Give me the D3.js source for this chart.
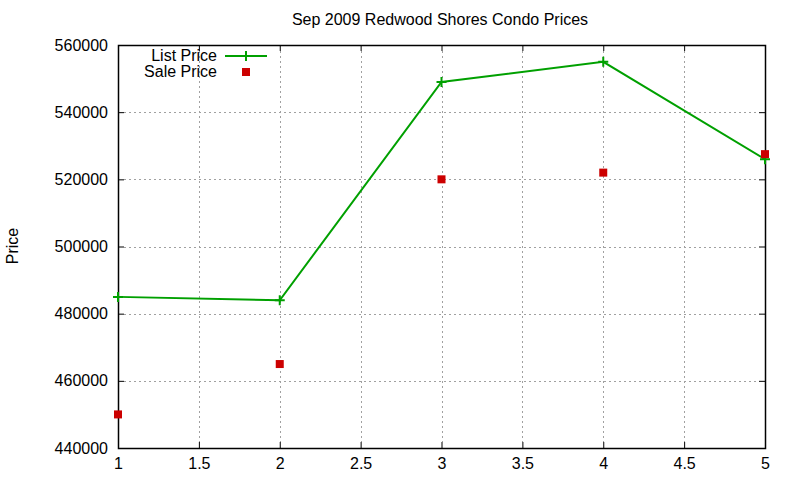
<!DOCTYPE html>
<html>
<head>
<meta charset="utf-8">
<script src="https://cdn.jsdelivr.net/npm/d3@7"></script>
<style>
  body { margin: 0; background: #fff; }
  text { font-family: "Liberation Sans", Arial, sans-serif; }
</style>
</head>
<body>
<div id="chart"></div>
<script>
const width = 800;
const height = 480;

// Data
const xs = [1, 2, 3, 4, 5];
const listPrice = [485000, 484000, 549000, 555000, 526000];
const salePrice = [450000, 465000, 520000, 522000, 527500];
const xTicks = [1, 1.5, 2, 2.5, 3, 3.5, 4, 4.5, 5];
const yTicks = [440000, 460000, 480000, 500000, 520000, 540000, 560000];

const margin = { top: 45, right: 35, bottom: 32, left: 118 };

const svg = d3.select("#chart")
  .append("svg")
  .attr("width", width)
  .attr("height", height);

const x = d3.scaleLinear().domain([1, 5]).range([margin.left, width - margin.right]);
const y = d3.scaleLinear().domain([440000, 560000]).range([height - margin.bottom, margin.top]);

const x0 = x.range()[0], x1 = x.range()[1];
const y0 = y.range()[0], y1 = y.range()[1];
const tick = 6;

// grid
const grid = svg.append("g")
  .attr("stroke", "#a0a0a0")
  .attr("stroke-width", 1)
  .attr("stroke-dasharray", "2,3");

grid.selectAll("line.gx")
  .data(xTicks.slice(1, -1))
  .join("line")
  .attr("x1", d => Math.round(x(d)) + 0.5)
  .attr("x2", d => Math.round(x(d)) + 0.5)
  .attr("y1", y1 + tick)
  .attr("y2", y0 - tick);

grid.selectAll("line.gy")
  .data(yTicks.slice(1, -1))
  .join("line")
  .attr("y1", d => Math.round(y(d)) + 0.5)
  .attr("y2", d => Math.round(y(d)) + 0.5)
  .attr("x1", x0 + tick)
  .attr("x2", x1 - tick);

// axes: ticks inward, mirrored
const axisBottom = d3.axisBottom(x).tickValues(xTicks).tickSizeInner(-tick).tickSizeOuter(0).tickPadding(10).tickFormat(d3.format("~g"));
const axisTop = d3.axisTop(x).tickValues(xTicks).tickSizeInner(-tick).tickSizeOuter(0).tickFormat("");
const axisLeft = d3.axisLeft(y).tickValues(yTicks).tickSizeInner(-tick).tickSizeOuter(0).tickPadding(10).tickFormat(d3.format("d"));
const axisRight = d3.axisRight(y).tickValues(yTicks).tickSizeInner(-tick).tickSizeOuter(0).tickFormat("");

function styleAxis(g) {
  g.select(".domain").remove();
  g.selectAll(".tick line").attr("stroke", "#000");
  g.selectAll(".tick text").attr("fill", "#000").style("font-size", "16px")
    .style("font-family", "'Liberation Sans', Arial, sans-serif");
}

svg.append("g").attr("transform", `translate(0,${y0})`).call(axisBottom).call(styleAxis);
svg.append("g").attr("transform", `translate(0,${y1})`).call(axisTop).call(styleAxis);
svg.append("g").attr("transform", `translate(${x0},0)`).call(axisLeft).call(styleAxis);
svg.append("g").attr("transform", `translate(${x1},0)`).call(axisRight).call(styleAxis);

// border
svg.append("rect")
  .attr("x", x0 + 0.5)
  .attr("y", y1 + 0.5)
  .attr("width", x1 - x0)
  .attr("height", y0 - y1)
  .attr("fill", "none")
  .attr("stroke", "#000")
  .attr("stroke-width", 1.5);

// list price line
const green = "#00a000";
const red = "#cc0000";

const line = d3.line()
  .x((d, i) => x(xs[i]))
  .y(d => y(d));

svg.append("path")
  .datum(listPrice)
  .attr("fill", "none")
  .attr("stroke", green)
  .attr("stroke-width", 2)
  .attr("d", line);

svg.append("g")
  .selectAll("path")
  .data(listPrice)
  .join("path")
  .attr("d", (d, i) => `M${x(xs[i]) - 5},${y(d)}h10M${x(xs[i])},${y(d) - 5}v10`)
  .attr("stroke", green)
  .attr("stroke-width", 2);

// sale price squares
svg.append("g")
  .selectAll("rect")
  .data(salePrice)
  .join("rect")
  .attr("x", (d, i) => x(xs[i]) - 4)
  .attr("y", d => y(d) - 4)
  .attr("width", 8)
  .attr("height", 8)
  .attr("fill", red);

// legend
const legend = svg.append("g").style("font-size", "16px");
legend.append("text").attr("x", 217).attr("y", 61).attr("text-anchor", "end").text("List Price");
legend.append("path").attr("d", "M225,56h42M246,51v10").attr("stroke", green).attr("stroke-width", 2);
legend.append("text").attr("x", 217).attr("y", 77).attr("text-anchor", "end").text("Sale Price");
legend.append("rect").attr("x", 242).attr("y", 68).attr("width", 8).attr("height", 8).attr("fill", red);

// title and axis label
svg.append("text")
  .attr("x", 440)
  .attr("y", 25)
  .attr("text-anchor", "middle")
  .style("font-size", "16px")
  .text("Sep 2009 Redwood Shores Condo Prices");

svg.append("text")
  .attr("transform", "translate(18,246) rotate(-90)")
  .attr("text-anchor", "middle")
  .style("font-size", "16px")
  .text("Price");
</script>
</body>
</html>
